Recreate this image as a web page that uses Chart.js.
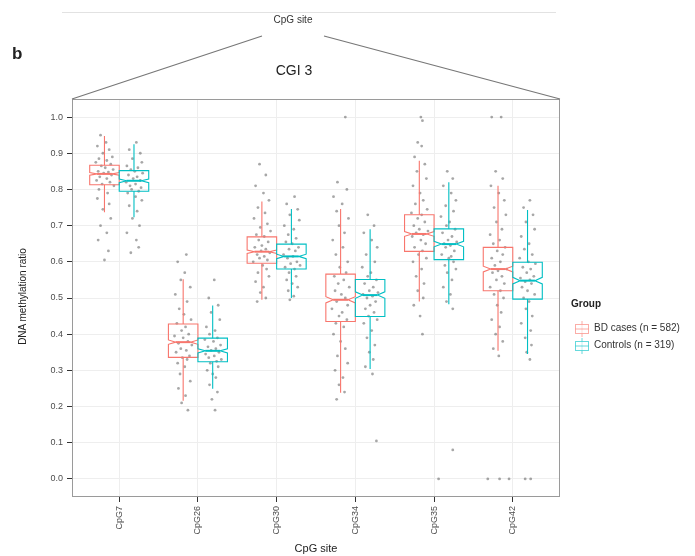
<!DOCTYPE html>
<html>
<head>
<meta charset="utf-8">
<script src="https://cdn.jsdelivr.net/npm/chart.js@4.4.0/dist/chart.umd.min.js"></script>
<style>
body { margin: 0; background: #fff; font-family: "Liberation Sans", Arial, sans-serif; }
#wrap { position: relative; width: 695px; height: 556px; }
#myChart { position: absolute; left: 0; top: 0; }
.txt { position: absolute; color: #222; white-space: nowrap; }
</style>
</head>
<body>
<div id="wrap">
    <canvas id="myChart" width="695" height="556"></canvas>
    <div class="txt" style="left:12px;top:44px;font-size:17px;font-weight:bold;">b</div>
    <div class="txt" style="left:262px;top:14px;width:62px;text-align:center;font-size:10px;color:#333;">CpG site</div>
    <div class="txt" style="left:240px;top:62px;width:108px;text-align:center;font-size:14px;">CGI 3</div>
    <div class="txt" style="left:-38px;top:291px;width:120px;text-align:center;font-size:10px;transform:rotate(-90deg);">DNA methylation ratio</div>
    <div class="txt" style="left:266px;top:542px;width:100px;text-align:center;font-size:11px;">CpG site</div>
    <div class="txt" style="left:571px;top:298px;font-size:10px;font-weight:bold;">Group</div>
    <div class="txt" id="leg0" style="left:594px;top:322px;font-size:10px;color:#333;"></div>
    <div class="txt" id="leg1" style="left:594px;top:339px;font-size:10px;color:#333;"></div>
</div>
<script>
//-----------------DATOS------------------
var categories = ['CpG7', 'CpG26', 'CpG30', 'CpG34', 'CpG35', 'CpG42'];
var groups = ['BD cases (n = 582)', 'Controls (n = 319)'];
var groupN = [582, 319];
var yTicks = [0.0, 0.1, 0.2, 0.3, 0.4, 0.5, 0.6, 0.7, 0.8, 0.9, 1.0];

// boxes, BD cases
var bdLow    = [0.737, 0.216, 0.495, 0.238, 0.490, 0.354];
var bdQ1     = [0.813, 0.336, 0.596, 0.435, 0.629, 0.520];
var bdMedian = [0.843, 0.378, 0.628, 0.495, 0.677, 0.580];
var bdQ3     = [0.867, 0.428, 0.669, 0.566, 0.730, 0.640];
var bdHigh   = [0.948, 0.552, 0.767, 0.746, 0.879, 0.810];

// boxes, controls
var ctrlLow    = [0.723, 0.249, 0.500, 0.304, 0.483, 0.345];
var ctrlQ1     = [0.795, 0.324, 0.580, 0.449, 0.606, 0.497];
var ctrlMedian = [0.824, 0.354, 0.615, 0.508, 0.649, 0.548];
var ctrlQ3     = [0.852, 0.389, 0.649, 0.551, 0.691, 0.599];
var ctrlHigh   = [0.925, 0.479, 0.746, 0.690, 0.820, 0.743];

// jittered samples [jitter, ratio] per CpG site
var bdPoints = [
    [[-0.05,0.95],[0.02,0.93],[-0.09,0.92],[0.06,0.91],[-0.02,0.90],[0.10,0.89],[-0.07,0.885],[0.03,0.88],[-0.11,0.875],[0.08,0.87],[-0.04,0.865],[0.01,0.86],[0.11,0.855],[-0.08,0.85],[0.05,0.848],[-0.01,0.845],[0.09,0.84],[-0.06,0.835],[0.03,0.83],[-0.10,0.825],[0.07,0.82],[-0.03,0.815],[0.12,0.81],[-0.07,0.80],[0.04,0.79],[-0.09,0.775],[0.06,0.76],[-0.02,0.745],[0.08,0.72],[-0.05,0.70],[0.03,0.68],[-0.08,0.66],[0.05,0.63],[0.00,0.605]],
    [[0.04,0.62],[-0.07,0.60],[0.02,0.57],[-0.03,0.55],[0.09,0.53],[-0.10,0.51],[0.05,0.49],[-0.05,0.47],[0.01,0.455],[0.10,0.44],[-0.08,0.43],[0.03,0.42],[-0.02,0.41],[0.07,0.40],[-0.11,0.395],[0.00,0.39],[0.06,0.38],[-0.06,0.375],[0.11,0.37],[-0.03,0.36],[0.04,0.355],[-0.09,0.35],[0.08,0.34],[-0.01,0.335],[0.05,0.33],[-0.07,0.32],[0.02,0.31],[-0.04,0.29],[0.09,0.27],[-0.06,0.25],[0.03,0.23],[-0.02,0.21],[0.06,0.19]],
    [[-0.03,0.87],[0.05,0.84],[-0.08,0.81],[0.02,0.79],[0.09,0.77],[-0.05,0.75],[0.04,0.735],[-0.10,0.72],[0.07,0.705],[-0.02,0.695],[0.11,0.685],[-0.07,0.675],[0.03,0.67],[-0.04,0.66],[0.08,0.655],[0.00,0.645],[-0.09,0.64],[0.05,0.635],[-0.01,0.63],[0.10,0.625],[-0.06,0.62],[0.03,0.615],[-0.03,0.61],[0.07,0.605],[-0.11,0.60],[0.01,0.59],[0.06,0.58],[-0.05,0.57],[0.09,0.56],[-0.08,0.545],[0.02,0.53],[-0.02,0.515],[0.05,0.50],[-0.06,0.49]],
    [[0.06,1.0],[-0.04,0.82],[0.08,0.80],[-0.09,0.78],[0.02,0.76],[-0.05,0.74],[0.10,0.72],[-0.02,0.70],[0.05,0.68],[-0.10,0.66],[0.03,0.64],[-0.06,0.62],[0.09,0.60],[-0.01,0.585],[0.07,0.57],[-0.08,0.56],[0.04,0.55],[-0.03,0.54],[0.11,0.53],[-0.07,0.52],[0.01,0.51],[0.06,0.50],[-0.05,0.49],[0.09,0.48],[-0.11,0.47],[0.02,0.46],[-0.02,0.45],[0.08,0.44],[-0.06,0.43],[0.04,0.42],[-0.09,0.40],[0.00,0.38],[0.06,0.36],[-0.04,0.34],[0.09,0.32],[-0.07,0.30],[0.03,0.28],[-0.02,0.26],[0.05,0.24],[-0.05,0.22]],
    [[0.02,1.0],[0.04,0.99],[-0.02,0.93],[0.03,0.92],[-0.06,0.89],[0.07,0.87],[-0.03,0.85],[0.09,0.83],[-0.08,0.81],[0.01,0.79],[0.05,0.77],[-0.05,0.76],[0.10,0.745],[-0.10,0.735],[0.03,0.73],[-0.02,0.72],[0.07,0.71],[-0.07,0.70],[0.00,0.69],[0.11,0.685],[-0.04,0.68],[0.05,0.675],[-0.09,0.67],[0.02,0.66],[0.08,0.65],[-0.06,0.64],[0.04,0.63],[-0.01,0.62],[0.09,0.61],[-0.08,0.60],[0.03,0.58],[-0.04,0.56],[0.06,0.54],[-0.02,0.52],[0.05,0.50],[-0.07,0.48],[0.01,0.45],[0.04,0.40]],
    [[-0.08,1.0],[0.04,1.0],[-0.03,0.85],[0.06,0.83],[-0.09,0.81],[0.01,0.79],[0.08,0.77],[-0.05,0.75],[0.10,0.73],[-0.02,0.71],[0.05,0.69],[-0.10,0.675],[0.02,0.66],[-0.06,0.65],[0.09,0.64],[-0.01,0.63],[0.06,0.62],[-0.08,0.61],[0.03,0.60],[-0.04,0.59],[0.11,0.58],[0.00,0.575],[-0.07,0.57],[0.05,0.56],[-0.02,0.55],[0.08,0.54],[-0.10,0.53],[0.03,0.52],[-0.05,0.51],[0.07,0.50],[-0.01,0.48],[0.04,0.46],[-0.08,0.44],[0.02,0.42],[-0.03,0.40],[0.06,0.38],[-0.06,0.36],[0.01,0.34],[-0.13,0.0],[0.02,0.0],[0.14,0.0]]
];
var ctrlPoints = [
    [[0.03,0.93],[-0.06,0.91],[0.08,0.90],[-0.02,0.885],[0.10,0.875],[-0.09,0.865],[0.05,0.86],[-0.04,0.855],[0.01,0.85],[0.11,0.845],[-0.07,0.84],[0.04,0.835],[-0.01,0.83],[0.08,0.825],[-0.10,0.82],[0.02,0.815],[-0.05,0.81],[0.09,0.805],[-0.03,0.80],[0.06,0.795],[-0.08,0.79],[0.02,0.78],[0.10,0.77],[-0.06,0.755],[0.04,0.74],[-0.02,0.72],[0.07,0.70],[-0.09,0.68],[0.03,0.66],[0.06,0.64],[-0.04,0.625]],
    [[0.02,0.55],[-0.05,0.50],[0.07,0.48],[-0.02,0.46],[0.09,0.44],[-0.08,0.42],[0.03,0.41],[-0.04,0.40],[0.06,0.39],[-0.10,0.385],[0.01,0.38],[0.10,0.37],[-0.06,0.365],[0.04,0.36],[-0.02,0.355],[0.08,0.35],[-0.09,0.345],[0.02,0.34],[-0.05,0.335],[0.11,0.33],[0.05,0.325],[-0.03,0.32],[0.07,0.31],[-0.07,0.30],[0.00,0.29],[0.04,0.28],[-0.04,0.26],[0.06,0.24],[-0.01,0.22],[0.03,0.19]],
    [[0.04,0.78],[-0.06,0.76],[0.08,0.745],[-0.02,0.73],[0.10,0.715],[-0.09,0.70],[0.03,0.69],[-0.04,0.675],[0.06,0.665],[-0.07,0.655],[0.01,0.65],[0.09,0.64],[-0.03,0.635],[0.05,0.63],[-0.10,0.62],[0.02,0.615],[-0.05,0.61],[0.07,0.60],[-0.01,0.595],[0.11,0.59],[-0.08,0.585],[0.04,0.58],[-0.03,0.57],[0.06,0.56],[-0.06,0.55],[0.01,0.54],[0.08,0.53],[-0.04,0.52],[0.03,0.505],[-0.02,0.495]],
    [[-0.03,0.73],[0.05,0.70],[-0.08,0.68],[0.02,0.66],[0.09,0.64],[-0.05,0.62],[0.06,0.60],[-0.10,0.585],[0.01,0.57],[-0.03,0.56],[0.08,0.55],[-0.07,0.54],[0.04,0.53],[-0.01,0.52],[0.10,0.515],[-0.09,0.51],[0.03,0.505],[-0.04,0.50],[0.07,0.49],[0.00,0.48],[-0.06,0.47],[0.05,0.46],[-0.02,0.45],[0.09,0.44],[-0.08,0.43],[0.02,0.41],[-0.04,0.39],[0.06,0.37],[-0.01,0.35],[0.04,0.33],[-0.06,0.31],[0.03,0.29],[0.08,0.105]],
    [[-0.02,0.85],[0.05,0.83],[-0.07,0.81],[0.03,0.79],[0.09,0.77],[-0.04,0.755],[0.06,0.74],[-0.10,0.725],[0.01,0.71],[-0.03,0.70],[0.08,0.69],[-0.08,0.68],[0.04,0.67],[-0.01,0.66],[0.10,0.655],[-0.06,0.65],[0.02,0.645],[-0.04,0.64],[0.07,0.63],[-0.09,0.62],[0.03,0.615],[0.00,0.61],[0.06,0.60],[-0.05,0.59],[0.09,0.58],[-0.02,0.57],[0.04,0.55],[-0.07,0.53],[0.02,0.51],[-0.03,0.49],[0.05,0.47],[0.05,0.08],[-0.13,0.0]],
    [[0.03,0.77],[-0.05,0.75],[0.07,0.73],[-0.02,0.71],[0.09,0.69],[-0.08,0.67],[0.02,0.65],[-0.04,0.635],[0.06,0.62],[-0.10,0.61],[0.01,0.60],[0.10,0.595],[-0.06,0.585],[0.04,0.58],[-0.01,0.57],[0.08,0.56],[-0.09,0.555],[0.03,0.55],[-0.03,0.545],[0.05,0.54],[-0.07,0.53],[0.00,0.52],[0.09,0.51],[-0.05,0.50],[0.02,0.49],[-0.02,0.47],[0.06,0.45],[-0.08,0.43],[0.04,0.41],[-0.03,0.39],[0.05,0.37],[-0.01,0.35],[0.03,0.33],[-0.03,0.0],[0.04,0.0]]
];

var groupColors = ['#F8766D', '#00BFC4'];
//-----------------FIN DATOS------------------

//-----------------FUNCIONES------------------
var DODGE = 0.1875;   // half of a box width, in category units

function puntos_grupo(lista, lado) {
    var out = [];
    for (var i = 0; i < lista.length; i++) {
        for (var j = 0; j < lista[i].length; j++) {
            out.push({ x: i + 1 + lado * DODGE + lista[i][j][0], y: lista[i][j][1] });
        }
    }
    return out;
}

function dibujar_caja(ctx, sx, sy, centro, low, q1, med, q3, high, n, color) {
    var half = DODGE;
    var xl = sx.getPixelForValue(centro - half);
    var xr = sx.getPixelForValue(centro + half);
    var xc = sx.getPixelForValue(centro);
    var nw = (xr - xl) * 0.25;
    var nh = 1.58 * (q3 - q1) / Math.sqrt(n);
    var yq1 = sy.getPixelForValue(q1), yq3 = sy.getPixelForValue(q3);
    var ym = sy.getPixelForValue(med);
    var ynu = sy.getPixelForValue(med + nh), ynl = sy.getPixelForValue(med - nh);

    ctx.strokeStyle = color;
    ctx.lineWidth = 1.1;
    // whiskers
    ctx.beginPath();
    ctx.moveTo(xc, yq3); ctx.lineTo(xc, sy.getPixelForValue(high));
    ctx.moveTo(xc, yq1); ctx.lineTo(xc, sy.getPixelForValue(low));
    ctx.stroke();
    // notched box
    ctx.beginPath();
    ctx.moveTo(xl, yq3); ctx.lineTo(xr, yq3); ctx.lineTo(xr, ynu);
    ctx.lineTo(xr - nw, ym); ctx.lineTo(xr, ynl); ctx.lineTo(xr, yq1);
    ctx.lineTo(xl, yq1); ctx.lineTo(xl, ynl); ctx.lineTo(xl + nw, ym);
    ctx.lineTo(xl, ynu); ctx.closePath();
    ctx.stroke();
    // median
    ctx.lineWidth = 2;
    ctx.beginPath();
    ctx.moveTo(xl + nw, ym); ctx.lineTo(xr - nw, ym);
    ctx.stroke();
}

var cajasPlugin = {
    id: 'cajas',
    afterDatasetsDraw: function (chart) {
        var ctx = chart.ctx, sx = chart.scales.x, sy = chart.scales.y;
        ctx.save();
        for (var i = 0; i < categories.length; i++) {
            dibujar_caja(ctx, sx, sy, i + 1 - DODGE, bdLow[i], bdQ1[i], bdMedian[i], bdQ3[i], bdHigh[i], groupN[0], groupColors[0]);
            dibujar_caja(ctx, sx, sy, i + 1 + DODGE, ctrlLow[i], ctrlQ1[i], ctrlMedian[i], ctrlQ3[i], ctrlHigh[i], groupN[1], groupColors[1]);
        }
        ctx.restore();
    },
    afterDraw: function (chart) {
        var ctx = chart.ctx, a = chart.chartArea;
        ctx.save();
        // panel border
        ctx.strokeStyle = '#9a9a9a';
        ctx.lineWidth = 1;
        ctx.strokeRect(a.left + 0.5, a.top + 0.5, a.right - a.left - 1, a.bottom - a.top - 1);
        // callout from the upper panel
        ctx.strokeStyle = '#e2e2e2';
        ctx.beginPath(); ctx.moveTo(62, 12.5); ctx.lineTo(556, 12.5); ctx.stroke();
        ctx.strokeStyle = '#777';
        ctx.lineWidth = 1.2;
        ctx.beginPath();
        ctx.moveTo(262, 36); ctx.lineTo(a.left, a.top);
        ctx.moveTo(324, 36); ctx.lineTo(a.right, a.top);
        ctx.stroke();
        // legend keys
        for (var g = 0; g < groups.length; g++) {
            var kx = 574, ky = 321 + g * 17;
            ctx.globalAlpha = 0.6;
            ctx.strokeStyle = groupColors[g];
            ctx.lineWidth = 1;
            ctx.beginPath();
            ctx.moveTo(kx + 8, ky); ctx.lineTo(kx + 8, ky + 16);
            ctx.stroke();
            ctx.fillStyle = '#fff';
            ctx.fillRect(kx + 1, ky + 3, 14, 10);
            ctx.strokeRect(kx + 1.5, ky + 3.5, 13, 9);
            ctx.beginPath();
            ctx.moveTo(kx + 1.5, ky + 8); ctx.lineTo(kx + 14.5, ky + 8);
            ctx.stroke();
            ctx.globalAlpha = 1;
        }
        ctx.restore();
    }
};
//-----------------FIN FUNCIONES------------------

//-----------------GRAFICO------------------
var datasets = [
    { label: groups[0], data: puntos_grupo(bdPoints, -1) },
    { label: groups[1], data: puntos_grupo(ctrlPoints, 1) }
];
datasets.forEach(function (d) {
    d.pointRadius = 1.4;
    d.pointBorderWidth = 0;
    d.pointBackgroundColor = 'rgba(95,95,95,0.55)';
    d.pointHoverRadius = 1.4;
});

document.getElementById('leg0').textContent = groups[0];
document.getElementById('leg1').textContent = groups[1];

var ctx = document.getElementById('myChart').getContext('2d');
var myChart = new Chart(ctx, {
    type: 'scatter',
    data: { datasets: datasets },
    options: {
        responsive: false,
        animation: false,
        devicePixelRatio: 1,
        layout: { padding: { top: 99, right: 135, left: 0, bottom: 0 } },
        plugins: { legend: { display: false }, tooltip: { enabled: false } },
        scales: {
            x: {
                type: 'linear',
                min: 0.4,
                max: 6.6,
                afterFit: function (s) { s.height = 59; },
                afterBuildTicks: function (s) {
                    s.ticks = categories.map(function (c, i) { return { value: i + 1 }; });
                },
                grid: { color: '#eeeeee', lineWidth: 1, tickColor: '#333', tickLength: 5 },
                border: { display: false },
                ticks: {
                    autoSkip: false,
                    minRotation: 90,
                    maxRotation: 90,
                    padding: 4,
                    color: '#4d4d4d',
                    font: { family: 'Liberation Sans', size: 9 },
                    callback: function (v, i) { return categories[i]; }
                }
            },
            y: {
                min: -0.05,
                max: 1.05,
                afterFit: function (s) { s.width = 72; },
                afterBuildTicks: function (s) {
                    s.ticks = yTicks.map(function (v) { return { value: v }; });
                },
                grid: { color: '#eeeeee', lineWidth: 1, tickColor: '#333', tickLength: 5 },
                border: { display: false },
                ticks: {
                    padding: 4,
                    color: '#4d4d4d',
                    font: { family: 'Liberation Sans', size: 9 },
                    callback: function (v) { return v.toFixed(1); }
                }
            }
        }
    },
    plugins: [cajasPlugin]
});
//-----------------FIN GRAFICO------------------
</script>
</body>
</html>
